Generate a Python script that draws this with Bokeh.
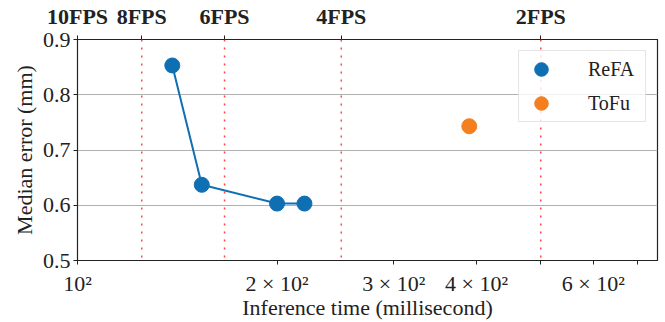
from bokeh.plotting import figure
from bokeh.models import LogAxis, FixedTicker, Span, Legend, LegendItem
from bokeh.embed import file_html
from bokeh.resources import INLINE

# ---- data ----
refa_time = [139, 154, 200, 220]
refa_err = [0.853, 0.637, 0.603, 0.603]
tofu_time = [390]
tofu_err = [0.743]
fps_values = [10, 8, 6, 4, 2]
fps_labels = ["10FPS", "8FPS", "6FPS", "4FPS", "2FPS"]
x_ticks = [100, 200, 300, 400, 500, 600, 700]
x_tick_labels = ["10²", "2 × 10²", "3 × 10²", "4 × 10²", "", "6 × 10²", ""]
y_ticks = [0.5, 0.6, 0.7, 0.8, 0.9]

FONT = "Liberation Serif"
BLUE = "#0f6fb3"
ORANGE = "#f57f1f"
AX = "#222222"

p = figure(width=665, height=322, x_axis_type="log", x_range=(100, 750),
           y_range=(0.5, 0.9), output_backend="svg", toolbar_location=None,
           min_border_left=77, min_border_right=8, min_border_top=39,
           min_border_bottom=61)
p.background_fill_color = "white"
p.border_fill_color = "white"
p.outline_line_color = AX
p.outline_line_width = 1.2

# grid
p.xgrid.visible = False
p.ygrid.ticker = FixedTicker(ticks=y_ticks)
p.ygrid.grid_line_color = "#b0b0b0"
p.ygrid.grid_line_width = 1.2

# FPS reference lines
fps_ms = [1000.0 / f for f in fps_values]
for ms in fps_ms[1:]:
    p.add_layout(Span(location=ms, dimension="height", line_color="#ff3030",
                      line_width=1.5, line_dash="2 6", line_alpha=0.9))

# data
p.line(refa_time, refa_err, line_color=BLUE, line_width=2)
r_refa = p.scatter(refa_time, refa_err, size=15, fill_color=BLUE, line_color=BLUE)
r_tofu = p.scatter(tofu_time, tofu_err, size=15, fill_color=ORANGE, line_color=ORANGE)

# bottom axis
xa = p.xaxis[0]
xa.ticker = FixedTicker(ticks=x_ticks)
xa.major_label_overrides = {t: l for t, l in zip(x_ticks, x_tick_labels)}
xa.axis_label = "Inference time (millisecond)"

# left axis
ya = p.yaxis[0]
ya.ticker = FixedTicker(ticks=y_ticks)
ya.axis_label = "Median error (mm)"

for ax in (xa, ya):
    ax.axis_line_color = AX
    ax.major_tick_line_color = AX
    ax.minor_tick_line_color = None
    ax.major_tick_in = 0
    ax.major_tick_out = 4
    ax.major_label_text_font = FONT
    ax.major_label_text_font_size = "22px"
    ax.major_label_text_color = "#222222"
    ax.axis_label_text_font = FONT
    ax.axis_label_text_font_size = "22px"
    ax.axis_label_text_font_style = "normal"
    ax.axis_label_text_color = "#222222"
    ax.major_label_standoff = 3
xa.major_label_standoff = 6
xa.axis_label_standoff = -4
ya.axis_label_standoff = 3

# top FPS axis
top = LogAxis(ticker=FixedTicker(ticks=fps_ms))
top.major_label_overrides = {t: l for t, l in zip(fps_ms, fps_labels)}
top.axis_line_color = AX
top.major_tick_line_color = AX
top.minor_tick_line_color = None
top.major_tick_in = 0
top.major_tick_out = 4
top.major_label_standoff = 7
top.major_label_text_font = FONT
top.major_label_text_font_size = "22px"
top.major_label_text_font_style = "bold"
top.major_label_text_color = "#222222"
p.add_layout(top, "above")

# legend
legend = Legend(items=[LegendItem(label="ReFA", renderers=[r_refa]),
                       LegendItem(label="ToFu", renderers=[r_tofu])],
                location="top_right", margin=11, padding=1, spacing=-4,
                glyph_width=42, glyph_height=34, label_standoff=26,
                label_width=56, label_text_font=FONT,
                label_text_font_size="20px", label_text_color="#222222",
                border_line_color="#cccccc", border_line_width=1,
                background_fill_color="white", background_fill_alpha=0.8)
p.add_layout(legend)

open("out.html", "w").write(file_html(p, INLINE))
